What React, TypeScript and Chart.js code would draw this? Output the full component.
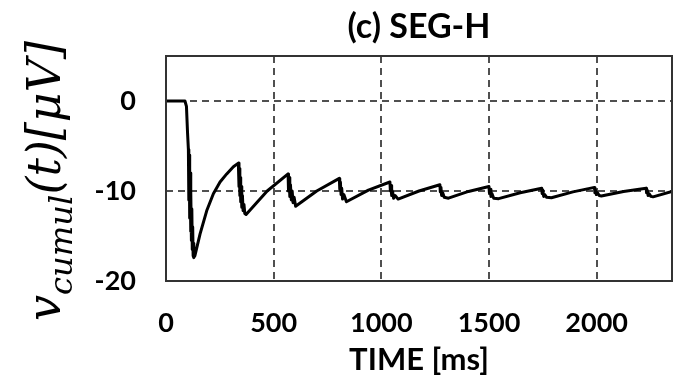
import React, { useEffect, useRef } from 'react';
import { Chart, registerables } from 'chart.js';

Chart.register(...registerables);

// ---- data ----
const timeMs = [
  0, 88, 95, 100, 104,
  106, 108, 110, 112, 114, 116, 118, 120, 122, 124, 126, 128, 130, 134,
  158, 189, 220, 251, 282, 313, 336,
  339, 341, 343, 345, 347, 349, 352, 355, 358, 362, 366, 372,
  470, 567,
  569, 572, 575, 578, 582, 586, 590, 595, 602,
  700, 805,
  807, 810, 813, 816, 820, 826, 838,
  940, 1040,
  1042, 1045, 1048, 1052, 1057, 1064, 1078,
  1175, 1272,
  1274, 1277, 1280, 1285, 1292, 1312,
  1405, 1500,
  1502, 1505, 1509, 1514, 1522, 1545,
  1645, 1745,
  1747, 1750, 1754, 1759, 1768, 1790,
  1890, 1990,
  1992, 1995, 1999, 2004, 2012, 2022,
  2125, 2230,
  2232, 2235, 2239, 2244, 2252, 2262,
  2350,
];
const vCumul = [
  0, 0, -0.6, -3.5, -5.4,
  -11.0, -6.0, -13.0, -8.0, -14.5, -10.0, -15.5, -12.0, -16.5, -14.0, -17.2, -15.8, -17.4, -17.2,
  -14.8, -12.2, -10.3, -9.0, -8.1, -7.3, -6.9,
  -9.5, -7.5, -10.5, -8.5, -11.2, -9.5, -11.8, -10.5, -12.2, -11.5, -12.5, -12.6,
  -10.0, -8.1,
  -10.0, -8.5, -10.6, -9.3, -11.0, -10.0, -11.3, -10.7, -11.7,
  -10.0, -8.6,
  -9.8, -9.0, -10.4, -9.7, -10.9, -10.4, -11.2,
  -9.9, -9.0,
  -10.0, -9.4, -10.5, -10.0, -10.8, -10.5, -10.9,
  -10.0, -9.3,
  -10.1, -9.6, -10.5, -10.2, -10.7, -10.8,
  -10.05, -9.5,
  -10.2, -9.8, -10.6, -10.3, -10.8, -10.85,
  -10.2, -9.7,
  -10.3, -9.9, -10.6, -10.4, -10.7, -10.75,
  -10.1, -9.6,
  -10.2, -9.9, -10.4, -10.2, -10.5, -10.55,
  -10.05, -9.7,
  -10.2, -9.9, -10.5, -10.3, -10.6, -10.65,
  -10.05,
];
const xTickValues = [0, 500, 1000, 1500, 2000];
const yTickValues = [-20, -10, 0];
const xMin = 0;
const xMax = 2350;
const yMin = -20;
const yMax = 5;
const titleText = '(c) SEG-H';
const xAxisTitle = 'TIME [ms]';
const yLabelMain = 'v';
const yLabelSub = 'cumul';
const yLabelRest = '(t)[\u03bcV]';

const SANS = 'Lato, "Open Sans", sans-serif';
const SERIF = '"DejaVu Serif", "Liberation Serif", serif';

const decorPlugin = {
  id: 'decor',
  afterDatasetsDraw(chart: any) {
    const { ctx, chartArea } = chart;
    ctx.save();
    ctx.strokeStyle = '#333';
    ctx.lineWidth = 2;
    ctx.setLineDash([]);
    ctx.strokeRect(chartArea.left, chartArea.top, chartArea.right - chartArea.left, chartArea.bottom - chartArea.top);
    ctx.restore();
  },
  afterDraw(chart: any) {
    const { ctx, chartArea } = chart;
    // main title
    ctx.save();
    ctx.fillStyle = '#000';
    ctx.font = `bold 34px ${SANS}`;
    ctx.textAlign = 'center';
    ctx.textBaseline = 'middle';
    ctx.fillText(titleText, (chartArea.left + chartArea.right) / 2, 27);
    ctx.restore();

    // rotated y label with subscript
    const S0 = 40;
    ctx.save();
    ctx.font = `italic ${S0}px ${SERIF}`;
    const w1 = ctx.measureText(yLabelMain).width;
    const w3 = ctx.measureText(yLabelRest).width;
    ctx.font = `italic ${S0 * 0.7}px ${SERIF}`;
    const w2 = ctx.measureText(yLabelSub).width;
    const total0 = w1 + w2 + w3;
    const S = (S0 * 280) / total0;
    const k = S / S0;
    ctx.translate(60, 321);
    ctx.rotate(-Math.PI / 2);
    ctx.fillStyle = '#000';
    ctx.textAlign = 'left';
    ctx.textBaseline = 'alphabetic';
    let x = 0;
    ctx.font = `italic ${S}px ${SERIF}`;
    ctx.fillText(yLabelMain, x, 0);
    x += w1 * k;
    ctx.font = `italic ${S * 0.7}px ${SERIF}`;
    ctx.fillText(yLabelSub, x, S * 0.27);
    x += w2 * k;
    ctx.font = `italic ${S}px ${SERIF}`;
    ctx.fillText(yLabelRest, x, 0);
    ctx.restore();
  },
};

export default function App() {
  const canvasRef = useRef<HTMLCanvasElement | null>(null);

  useEffect(() => {
    document.body.style.margin = '0';
    const canvas = canvasRef.current;
    if (!canvas) return;
    const points = timeMs.map((t, i) => ({ x: t, y: vCumul[i] }));
    const gridColor = (skip: number) => (ctx: any) =>
      ctx.tick && ctx.tick.value === skip ? 'rgba(0,0,0,0)' : '#505050';

    const chart = new Chart(canvas, {
      type: 'line',
      data: {
        datasets: [
          {
            data: points,
            borderColor: '#000',
            borderWidth: 3,
            pointRadius: 0,
            tension: 0,
            fill: false,
            borderJoinStyle: 'round',
          } as any,
        ],
      },
      options: {
        responsive: false,
        animation: false,
        devicePixelRatio: 1,
        layout: { padding: { top: 56, right: 3, left: 0, bottom: 0 } },
        plugins: {
          legend: { display: false },
          tooltip: { enabled: false },
          title: { display: false },
        },
        scales: {
          x: {
            type: 'linear',
            min: xMin,
            max: xMax,
            afterBuildTicks: (s: any) => {
              s.ticks = xTickValues.map((v) => ({ value: v }));
            },
            afterFit: (s: any) => {
              s.height = 101;
            },
            ticks: {
              font: { family: SANS, size: 27, weight: 'bold' },
              color: '#000',
              padding: 26,
              maxRotation: 0,
              autoSkip: false,
              callback: (v: any) => String(v),
            },
            grid: {
              color: gridColor(0),
              lineWidth: 2,
              drawTicks: false,
            },
            border: { display: false, dash: [7, 5] },
            title: {
              display: true,
              text: xAxisTitle,
              font: { family: SANS, size: 31, weight: 'bold' },
              color: '#000',
              padding: { top: 0, bottom: 3 },
            },
          },
          y: {
            type: 'linear',
            min: yMin,
            max: yMax,
            afterBuildTicks: (s: any) => {
              s.ticks = yTickValues.map((v) => ({ value: v }));
            },
            afterFit: (s: any) => {
              s.width = 166;
            },
            ticks: {
              font: { family: SANS, size: 27, weight: 'bold' },
              color: '#000',
              padding: 30,
              autoSkip: false,
              callback: (v: any) => String(v),
            },
            grid: {
              color: gridColor(-20),
              lineWidth: 2,
              drawTicks: false,
            },
            border: { display: false, dash: [7, 5] },
          },
        },
      } as any,
      plugins: [decorPlugin],
    });
    return () => chart.destroy();
  }, []);

  return (
    <div style={{ position: 'fixed', left: 0, top: 0, width: 675, height: 382, background: '#fff' }}>
      <canvas ref={canvasRef} width={675} height={382} />
    </div>
  );
}
